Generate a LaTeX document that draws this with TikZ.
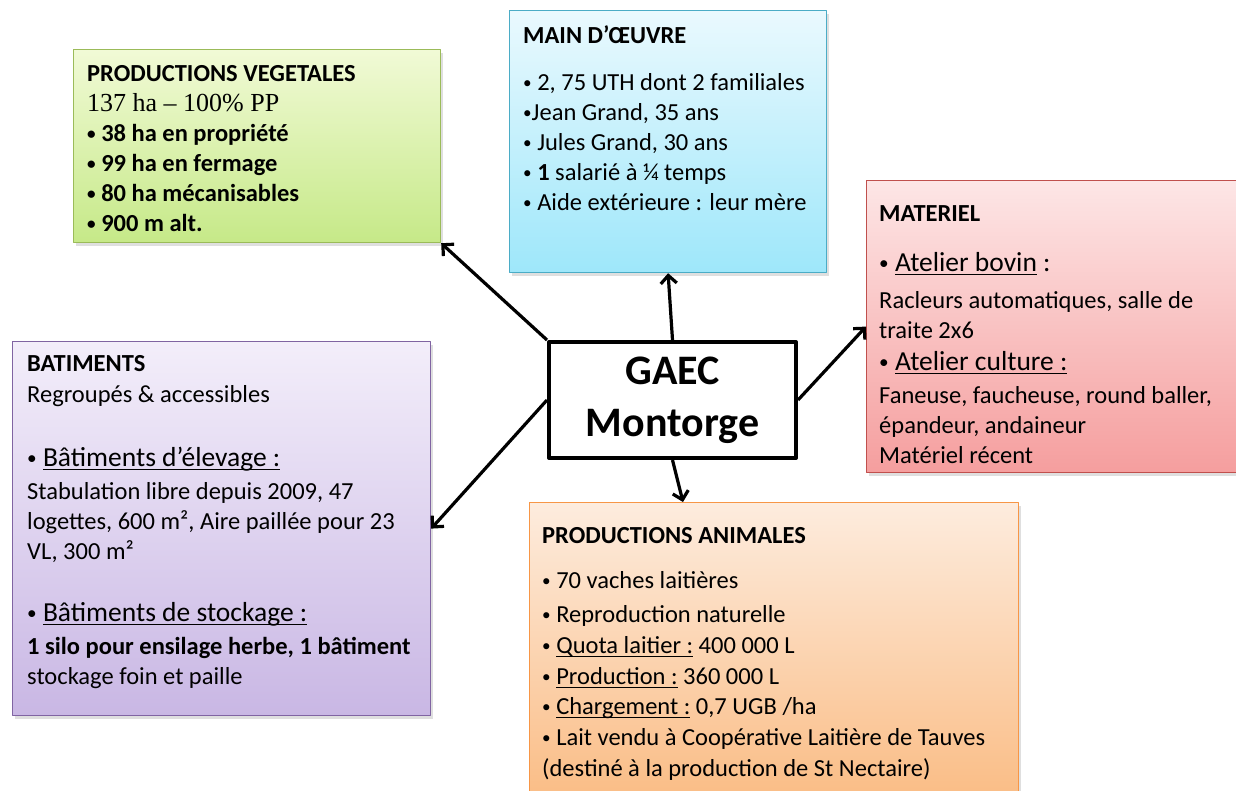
\documentclass[tikz,border=0pt]{standalone}
\usepackage{fontspec}
\setmainfont{Carlito}
\newfontfamily\ppfont{Liberation Serif}
\usetikzlibrary{arrows.meta,shadows,positioning}

\definecolor{vegtop}{RGB}{241,250,214}\definecolor{vegbot}{RGB}{198,233,136}\definecolor{vegline}{RGB}{155,187,89}
\definecolor{maintop}{RGB}{234,249,254}\definecolor{mainbot}{RGB}{158,231,250}\definecolor{mainline}{RGB}{75,172,198}
\definecolor{mattop}{RGB}{253,230,230}\definecolor{matbot}{RGB}{245,158,158}\definecolor{matline}{RGB}{192,80,77}
\definecolor{battop}{RGB}{243,238,250}\definecolor{batbot}{RGB}{201,183,228}\definecolor{batline}{RGB}{128,100,162}
\definecolor{animtop}{RGB}{253,236,222}\definecolor{animbot}{RGB}{250,188,132}\definecolor{animline}{RGB}{247,150,70}
\newcommand\hdsize{\fontsize{27.5}{30}\selectfont}
\newcommand\uln[1]{\leavevmode\setbox0\hbox{#1}\rlap{\vrule height -2.5pt depth 4pt width \wd0}\box0\relax}
\newcommand\bul{\raisebox{1.5pt}{\scalebox{0.7}{•}}}

\begin{document}
\begin{tikzpicture}[x=1pt,y=-1pt,line join=round,
  bloc/.style={draw=#1line,top color=#1top,bottom color=#1bot,line width=1.2pt,anchor=north west,inner sep=0pt,
    drop shadow={shadow xshift=2pt,shadow yshift=-3pt,opacity=0.25}},
  txt/.style={anchor=north west,inner sep=0pt,align=left,font=\fontsize{24.5}{30}\selectfont},
  arr/.style={line width=3.2pt,-{Straight Barb[length=8pt,width=16pt,line width=3.2pt]}}]
  \useasboundingbox[fill=white] (0,0) rectangle (1236,790);
  % boxes
  \node[bloc=veg,minimum width=367,minimum height=193] (veg) at (73,49) {};
  \node[bloc=main,minimum width=317,minimum height=262] (main) at (509,10) {};
  \node[bloc=mat,minimum width=380,minimum height=292] (mat) at (866,180) {};
  \node[bloc=bat,minimum width=418,minimum height=374] (bat) at (12,341) {};
  \node[bloc=anim,minimum width=489,minimum height=300] (anim) at (529,502) {};
  \node[draw,line width=4pt,fill=white,minimum width=247,minimum height=116,align=center,
    font=\fontsize{42}{52}\selectfont\bfseries] (gaec) at (672.5,400) {GAEC\\Montorge};
  % texts
  \node[txt] (vegtxt) at (87,65) {{\bfseries PRODUCTIONS VEGETALES}\\
    {\ppfont\fontsize{26}{30}\selectfont 137 ha – 100\% PP}\\
    \bfseries \bul\ 38 ha en propriété\\ \bfseries \bul\ 99 ha en fermage\\
    \bfseries \bul\ 80 ha mécanisables\\ \bfseries \bul\ 900 m alt.};
  \node[txt] (maintxt) at (523,25) {{\bfseries MAIN D’ŒUVRE}\\[17pt]
    \bul\ 2, 75 UTH dont 2 familiales\\ \bul Jean Grand, 35 ans\\ \bul\ Jules Grand, 30 ans\\
    \bul\ {\bfseries 1} salarié à ¼ temps\\ \bul\ Aide extérieure : leur mère};
  \node[txt] (mattxt) at (879,205) {{\bfseries MATERIEL}\\[20pt]
    {\hdsize \bul\ \uln{Atelier bovin} :}\\[7pt]
    Racleurs automatiques, salle de\\ traite 2x6\\[2pt]
    {\hdsize \bul\ \uln{Atelier culture :}}\\[3pt]
    Faneuse, faucheuse, round baller,\\ épandeur, andaineur\\ Matériel récent};
  \node[txt] (battxt) at (27,355) {{\bfseries BATIMENTS}\\[1pt]
    Regroupés \& accessibles\\[34pt]
    {\hdsize \bul\ \uln{Bâtiments d’élevage :}}\\[3pt]
    Stabulation libre depuis 2009, 47\\ logettes, 600 m², Aire paillée pour 23\\ VL, 300 m²\\[32pt]
    {\hdsize \bul\ \uln{Bâtiments de stockage :}}\\[3pt]
    {\bfseries 1 silo pour ensilage herbe, 1 bâtiment}\\ stockage foin et paille};
  \node[txt] (animtxt) at (542,527) {{\bfseries PRODUCTIONS ANIMALES}\\[15pt]
    \bul\ 70 vaches laitières\\[4pt] \bul\ Reproduction naturelle\\[1pt]
    \bul\ \uln{Quota laitier :} 400 000 L\\[1pt] \bul\ \uln{Production :} 360 000 L\\
    \bul\ \uln{Chargement :} 0,7 UGB /ha\\[1pt]
    \bul\ Lait vendu à Coopérative Laitière de Tauves\\[1pt]
    (destiné à la production de St Nectaire)};
  % arrows
  \draw[arr] (gaec.north west) -- (veg.south east);
  \draw[arr] (gaec.north) -- (main.south);
  \draw[arr] (gaec.east) -- (mat.west);
  \draw[arr] (gaec.west) -- (bat.east);
  \draw[arr] (gaec.south) -- ([xshift=154pt]anim.north west);
\end{tikzpicture}
\end{document}
